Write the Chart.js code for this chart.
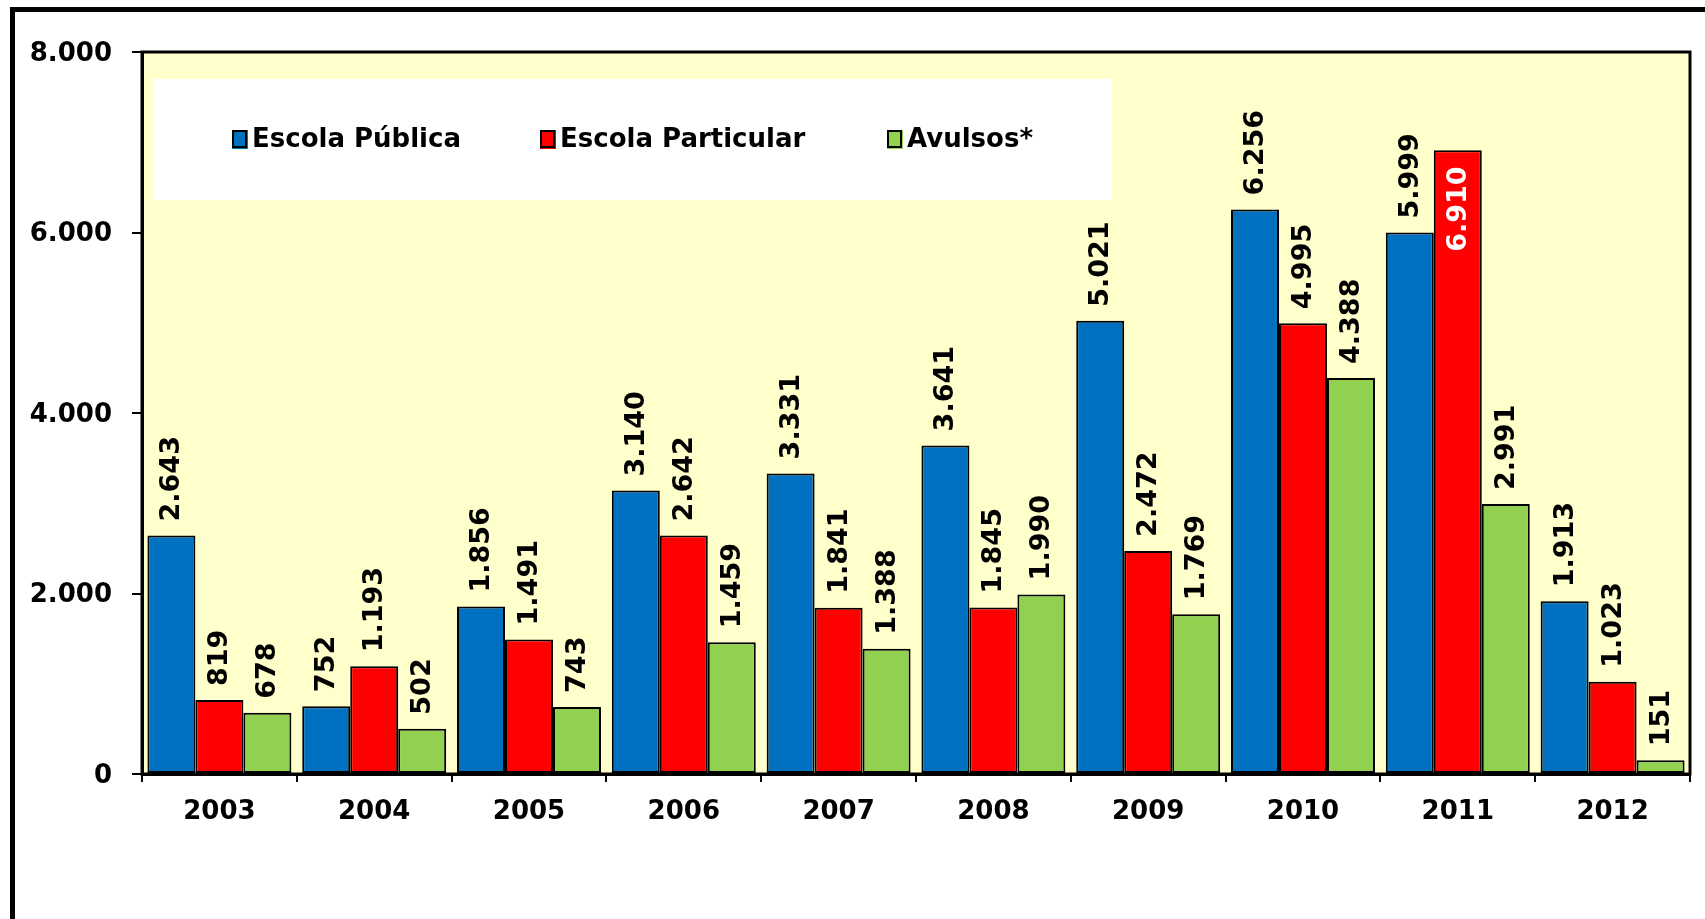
<!DOCTYPE html>
<html>
<head>
<meta charset="utf-8">
<script src="https://cdn.jsdelivr.net/npm/chart.js@4.4.1/dist/chart.umd.min.js"></script>
<style>
  html, body { margin: 0; padding: 0; background: #ffffff; }
  #wrap { width: 1705px; height: 919px; position: relative; }
</style>
</head>
<body>
<div id="wrap"><canvas id="c" width="1705" height="919"></canvas></div>
<script>
const categories = ['2003', '2004', '2005', '2006', '2007', '2008', '2009', '2010', '2011', '2012'];
const seriesNames = ['Escola Pública', 'Escola Particular', 'Avulsos*'];
const escolaPublica = [2643, 752, 1856, 3140, 3331, 3641, 5021, 6256, 5999, 1913];
const escolaParticular = [819, 1193, 1491, 2642, 1841, 1845, 2472, 4995, 6910, 1023];
const avulsos = [678, 502, 743, 1459, 1388, 1990, 1769, 4388, 2991, 151];
const yTicks = [0, 2000, 4000, 6000, 8000];
const seriesColors = ['#0070C0', '#FF0000', '#92D050'];

const FONT = '"DejaVu Sans", Verdana, sans-serif';

function fmt(v) {
  const s = String(Math.round(v));
  return s.replace(/\B(?=(\d{3})+(?!\d))/g, '.');
}

const decorPlugin = {
  id: 'decor',
  beforeDraw(chart) {
    const { ctx, chartArea: a } = chart;
    ctx.save();
    ctx.fillStyle = '#000';
    ctx.fillRect(10, 7, 5, 919);
    ctx.fillRect(10, 7, 1705, 5);
    ctx.fillStyle = '#FFFFCC';
    ctx.fillRect(a.left, a.top, a.right - a.left, a.bottom - a.top);
    ctx.restore();
  },
  beforeDatasetsDraw(chart) {
    const { ctx, chartArea: a } = chart;
    ctx.save();
    ctx.fillStyle = '#ffffff';
    ctx.fillRect(a.left + 12, 79, 1112 - (a.left + 12), 121);
    const xs = [232, 540, 887];
    const cy = 139;
    ctx.font = 'bold 26px ' + FONT;
    ctx.textBaseline = 'middle';
    ctx.textAlign = 'left';
    chart.data.datasets.forEach((ds, i) => {
      ctx.fillStyle = ds.backgroundColor;
      ctx.fillRect(xs[i], cy - 9, 16, 19);
      ctx.strokeStyle = '#000';
      ctx.lineWidth = 2;
      ctx.strokeRect(xs[i] + 1, cy - 8, 13, 16);
      ctx.fillStyle = '#000';
      ctx.fillText(ds.label, xs[i] + 20, cy + 1);
    });
    ctx.restore();
  },
  afterDatasetsDraw(chart) {
    const { ctx, chartArea: a } = chart;
    ctx.save();
    ctx.font = 'bold 27px ' + FONT;
    ctx.textBaseline = 'middle';
    chart.data.datasets.forEach((ds, di) => {
      const meta = chart.getDatasetMeta(di);
      meta.data.forEach((bar, i) => {
        const txt = fmt(ds.data[i]);
        const w = ctx.measureText(txt).width;
        const gap = 14;
        let y, align, color;
        if (bar.y - gap - w < a.top + 30) {
          y = bar.y + 16; align = 'right'; color = '#ffffff';
        } else {
          y = bar.y - gap; align = 'left'; color = '#000000';
        }
        ctx.save();
        ctx.translate(bar.x, y);
        ctx.rotate(-Math.PI / 2);
        ctx.textAlign = align;
        ctx.fillStyle = color;
        ctx.fillText(txt, 0, 1);
        ctx.restore();
      });
    });
    ctx.strokeStyle = '#000';
    ctx.lineWidth = 3;
    ctx.strokeRect(a.left, a.top, a.right - a.left, a.bottom - a.top);
    ctx.restore();
  }
};

function mkDs(label, data, color) {
  return {
    label: label,
    data: data,
    backgroundColor: color,
    borderColor: '#000000',
    borderWidth: 2,
    borderSkipped: false,
    categoryPercentage: 0.93,
    barPercentage: 1.0
  };
}

new Chart(document.getElementById('c'), {
  type: 'bar',
  data: {
    labels: categories,
    datasets: [
      mkDs(seriesNames[0], escolaPublica, seriesColors[0]),
      mkDs(seriesNames[1], escolaParticular, seriesColors[1]),
      mkDs(seriesNames[2], avulsos, seriesColors[2])
    ]
  },
  options: {
    responsive: false,
    animation: false,
    devicePixelRatio: 1,
    layout: { padding: { left: 0, top: 52, right: 15, bottom: 0 } },
    plugins: { legend: { display: false }, tooltip: { enabled: false } },
    scales: {
      x: {
        grid: { display: true, drawOnChartArea: false, drawTicks: true, tickLength: 8, color: '#000', lineWidth: 2, offset: true },
        border: { display: true, color: '#000', width: 3 },
        ticks: { color: '#000', font: { family: FONT, size: 26, weight: 'bold' }, padding: 15, maxRotation: 0 },
        afterFit: s => { s.height = 145; }
      },
      y: {
        min: 0, max: 8000,
        afterBuildTicks: s => { s.ticks = yTicks.map(v => ({ value: v })); },
        grid: { display: true, drawOnChartArea: false, drawTicks: true, tickLength: 10, color: '#000', lineWidth: 2 },
        border: { display: true, color: '#000', width: 3 },
        ticks: { color: '#000', font: { family: FONT, size: 26, weight: 'bold' }, padding: 20, labelOffset: 2, callback: v => fmt(v) },
        afterFit: s => { s.width = 142; }
      }
    }
  },
  plugins: [decorPlugin]
});
</script>
</body>
</html>
